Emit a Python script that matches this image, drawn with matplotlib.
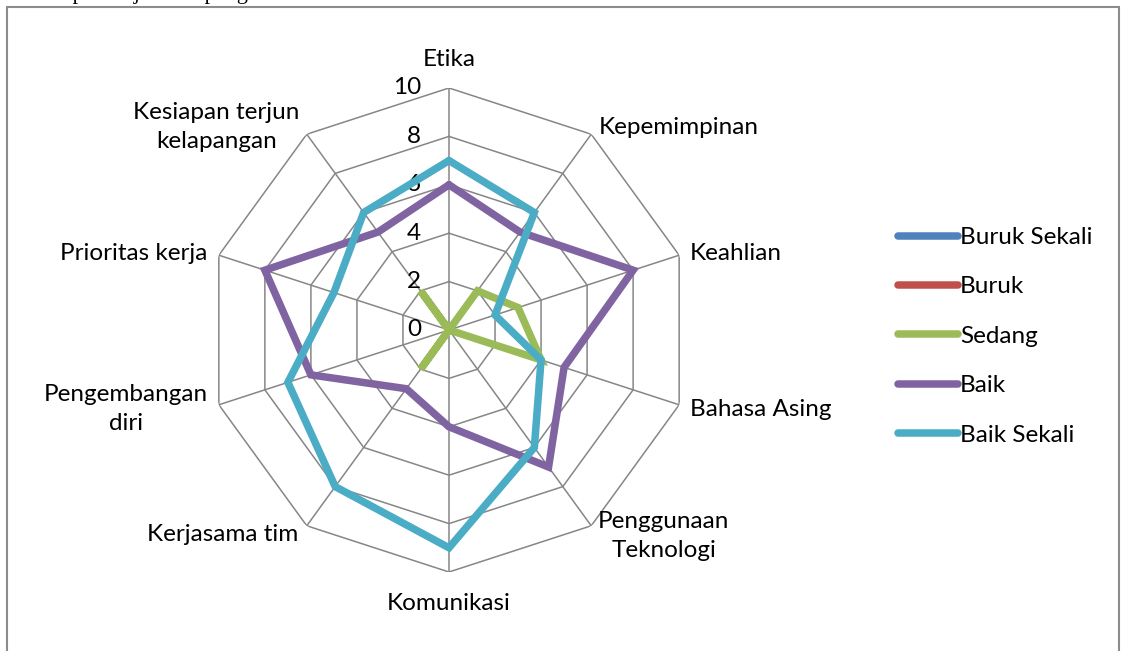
import numpy as np
import matplotlib.pyplot as plt
from matplotlib.patches import Rectangle

# ---------------------------
# Daten
# ---------------------------
kategori = ['Etika', 'Kepemimpinan', 'Keahlian', 'Bahasa Asing', 'Penggunaan\nTeknologi',
            'Komunikasi', 'Kerjasama tim', 'Pengembangan\ndiri', 'Prioritas kerja',
            'Kesiapan terjun\nkelapangan']
buruk_sekali = [0, 0, 0, 0, 0, 0, 0, 0, 0, 0]
buruk = [0, 0, 0, 0, 0, 0, 0, 0, 0, 0]
sedang = [0, 2, 3, 4, 0, 0, 2, 0, 0, 2]
baik = [6, 5, 8, 5, 7, 4, 3, 6, 8, 5]
baik_sekali = [7, 6, 2, 4, 6, 9, 8, 7, 5, 6]
ticks = [0, 2, 4, 6, 8, 10]

serien = [('Buruk Sekali', buruk_sekali, '#4F81BD'),
          ('Buruk', buruk, '#C0504D'),
          ('Sedang', sedang, '#9BBB59'),
          ('Baik', baik, '#8064A2'),
          ('Baik Sekali', baik_sekali, '#4BACC6')]

plt.rcParams['font.family'] = ['Lato', 'DejaVu Sans']
fs = 17.5

W, H = 1123, 651
fig = plt.figure(figsize=(W / 100, H / 100), dpi=100)

# Rahmen
fig.patches.append(Rectangle((7 / W, -0.05), 1112 / W, 1.05 - 7 / H, transform=fig.transFigure,
                             fill=False, edgecolor='#8c8c8c', linewidth=1.5))
fig.text(22 / W, 1 + 1 / H, 'Kesiapan terjun kelapangan', family='Liberation Serif',
         fontsize=16, va='baseline', ha='left')

cx, cy, R = 449, 330, 242
ax = fig.add_axes([(cx - R) / W, 1 - (cy + R) / H, 2 * R / W, 2 * R / H], projection='polar')
ax.set_theta_zero_location('N')
ax.set_theta_direction(-1)
ax.set_ylim(0, 10)
ax.axis('off')

n = len(kategori)
winkel = np.linspace(0, 2 * np.pi, n, endpoint=False)
winkel_zu = np.append(winkel, winkel[0])

# Gitter
grid_kw = dict(color='#868686', linewidth=1.1, zorder=1)
for t in ticks[1:]:
    ax.plot(winkel_zu, [t] * (n + 1), **grid_kw)
for w in winkel:
    ax.plot([w, w], [0, 10], **grid_kw)

for t in ticks:
    ax.annotate(str(t), xy=(0, t), xytext=(-28, 0), textcoords='offset pixels',
                ha='right', va='center', fontsize=fs)

# Kategorien
offsets = [(0, 29, 'center'), (8, 7, 'left'), (11, 2, 'left'), (11, -5, 'left'),
           (7, -10, 'left'), (0, -31, 'center'), (-9, -9, 'right'), (-11, -4, 'right'),
           (-11, 2, 'right'), (-7, 7, 'right')]
for w, name, (dx, dy, ha) in zip(winkel, kategori, offsets):
    ax.annotate(name, xy=(w, 10), xytext=(dx, dy), textcoords='offset pixels',
                ha=ha, va='center', multialignment='center', fontsize=fs, linespacing=1.45)

# Linien
for name, werte, farbe in serien:
    ax.plot(winkel_zu, werte + werte[:1], color=farbe, linewidth=5.4,
            solid_joinstyle='miter', solid_capstyle='round', label=name, zorder=3)

fig.legend(loc='upper left', bbox_to_anchor=(898 / W, 1 - 227 / H), frameon=False,
           fontsize=fs, handlelength=2.47, handletextpad=0.08, labelspacing=1.17,
           borderpad=0, borderaxespad=0)

fig.savefig('out.png', dpi=100)
